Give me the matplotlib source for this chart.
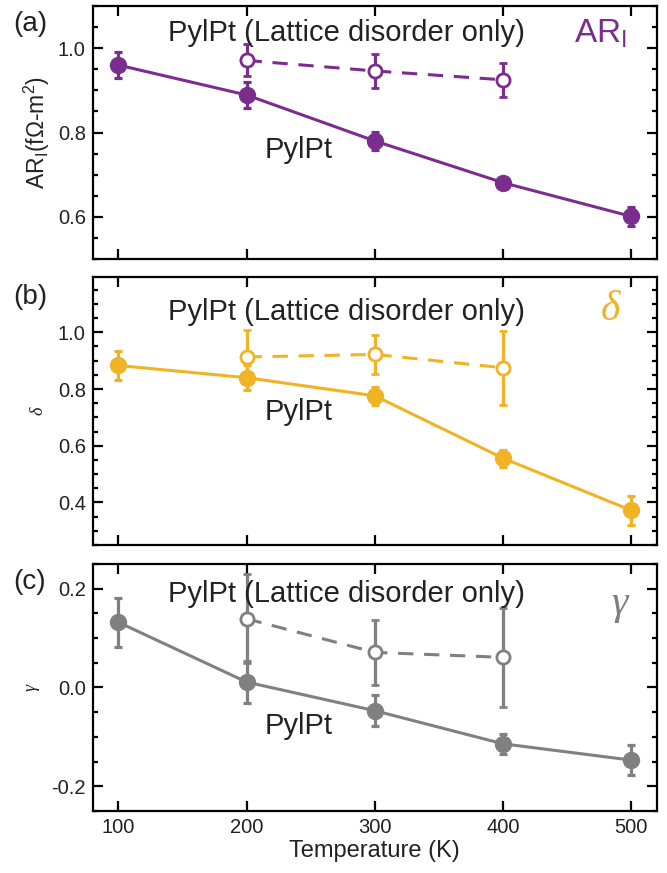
import numpy as np
import matplotlib.pyplot as plt
from matplotlib.ticker import MultipleLocator

plt.rcParams['font.family'] = ['Liberation Sans', 'DejaVu Sans']
plt.rcParams['mathtext.fontset'] = 'custom'
plt.rcParams['mathtext.rm'] = 'Liberation Sans'

# temperatures (K)
T_full = [100, 200, 300, 400, 500]
T_latt = [200, 300, 400]

# (a) AR_I  (fOhm-m^2)
ar_full = [0.960, 0.889, 0.780, 0.681, 0.601]
ar_full_err = [0.030, 0.030, 0.022, 0.010, 0.022]
ar_latt = [0.971, 0.946, 0.925]
ar_latt_err = [0.038, 0.040, 0.040]

# (b) delta
d_full = [0.883, 0.840, 0.776, 0.556, 0.372]
d_full_err = [0.050, 0.045, 0.032, 0.030, 0.050]
d_latt = [0.913, 0.922, 0.875]
d_latt_err = [0.095, 0.068, 0.130]

# (c) gamma
g_full = [0.132, 0.011, -0.047, -0.114, -0.147]
g_full_err = [0.050, 0.042, 0.031, 0.020, 0.031]
g_latt = [0.139, 0.071, 0.061]
g_latt_err = [0.090, 0.065, 0.100]

purple = '#7B2D8E'
orange = '#F0B323'
gray = '#808080'
txt = '#222222'
greek = ['Liberation Serif', 'DejaVu Serif']

fig = plt.figure(figsize=(6.67, 8.73), dpi=100)
L, W = 0.139, 0.846
ax_a = fig.add_axes([L, 0.7033, W, 0.2898])
ax_b = fig.add_axes([L, 0.3757, W, 0.3070])
ax_c = fig.add_axes([L, 0.0710, W, 0.2830])

panels = [
    (ax_a, ar_full, ar_full_err, ar_latt, ar_latt_err, purple, (0.5, 1.1),
     (1.035, 0.758), '(a)'),
    (ax_b, d_full, d_full_err, d_latt, d_latt_err, orange, (0.25, 1.195),
     (1.072, 0.718), '(b)'),
    (ax_c, g_full, g_full_err, g_latt, g_latt_err, gray, (-0.25, 0.25),
     (0.190, -0.078), '(c)'),
]

for ax, yf, ef, yl, el, c, ylim, (y_top, y_py), lab in panels:
    ax.errorbar(T_full, yf, yerr=ef, color=c, lw=2.2, marker='o', ms=11.5,
                elinewidth=2.3, capsize=3, capthick=2.3)
    ax.errorbar(T_latt, yl, yerr=el, color=c, lw=2.2, ls=(0, (5, 3.5)), marker='o',
                ms=9.5, mfc='white', mew=2.0, elinewidth=2.3, capsize=3, capthick=2.3)
    ax.set_xlim(80, 520)
    ax.set_ylim(*ylim)
    ax.xaxis.set_major_locator(MultipleLocator(100))
    ax.yaxis.set_major_locator(MultipleLocator(0.2))
    ax.yaxis.set_minor_locator(MultipleLocator(0.05))
    ax.yaxis.set_major_formatter(lambda v, p: f'{v:.1f}')
    ax.tick_params(which='both', direction='in', top=True, right=True,
                   width=1.6, labelsize=14.5, colors='black', labelcolor=txt)
    ax.tick_params(which='major', length=7, pad=5)
    ax.tick_params(which='minor', length=3.5)
    for s in ax.spines.values():
        s.set_linewidth(1.6)
    ax.text(139, y_top, 'PylPt (Lattice disorder only)', fontsize=21,
            color=txt, ha='left', va='center')
    ax.text(214, y_py, 'PylPt', fontsize=21, color=txt, ha='left', va='center')
    ax.text(-0.14, 0.927, lab, transform=ax.transAxes, fontsize=20,
            color=txt, ha='left', va='center')

ax_a.text(455, 1.035, r'AR$_\mathregular{I}$', fontsize=24, color=purple,
          ha='left', va='center')
ax_b.text(484, 1.08, 'δ', family=greek, style='italic', fontsize=30,
          color=orange, ha='center', va='center')
ax_c.text(491, 0.17, 'γ', family=greek, style='italic', fontsize=30,
          color=gray, ha='center', va='center')

ax_a.set_ylabel(r'AR$_\mathregular{I}$(f$\Omega$-m$^2$)', fontsize=16.5, color=txt,
                labelpad=4)
ax_b.set_ylabel('δ', family=greek, style='italic', fontsize=13, color=txt, labelpad=8)
ax_c.set_ylabel('γ', family=greek, style='italic', fontsize=13, color=txt, labelpad=8)

ax_a.tick_params(labelbottom=False)
ax_b.tick_params(labelbottom=False)
ax_c.set_xlabel('Temperature (K)', fontsize=17, color=txt, labelpad=2)

fig.savefig('out.png', dpi=100)
